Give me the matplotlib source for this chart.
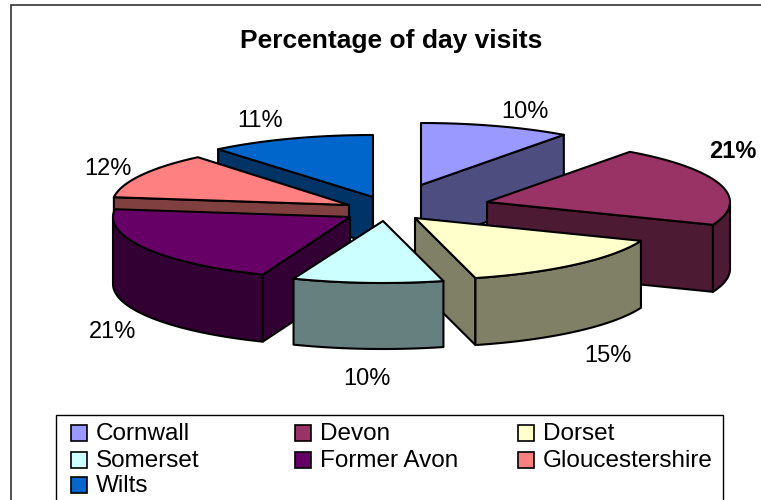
import numpy as np
import matplotlib
matplotlib.use("Agg")
import matplotlib.pyplot as plt
from matplotlib.patches import Polygon, Rectangle

names = ["Cornwall", "Devon", "Dorset", "Somerset", "Former Avon", "Gloucestershire", "Wilts"]
values = [10, 21, 15, 10, 21, 12, 11]
top_colors = ["#9999FF", "#993366", "#FFFFCC", "#CCFFFF", "#660066", "#FF8080", "#0066CC"]
side_colors = ["#4D4D80", "#4D1A33", "#808066", "#668080", "#330033", "#804040", "#003366"]

# where each exploded slice has its point, in pixels of the 761x500 picture
apex_x = [421, 487, 415, 383, 350, 349, 373]
apex_y = [185, 202, 218, 221, 217, 205, 197]
radius_x = [243, 243, 243, 243, 237, 237, 243]
depth = [60, 67, 67, 66, 67, 67, 47]
label_x = [525, 733, 608, 367, 113, 108, 260]
label_y = [111, 151, 355, 378, 331, 168, 120]
draw_order = [6, 5, 0, 1, 4, 2, 3]

RY = 62
LW = 1.5

plt.rcParams["font.family"] = ["Liberation Sans", "DejaVu Sans"]


def rim(cx, cy, rx, a0, a1):
    # points on the ellipse, angle clockwise from 12 o'clock
    t = np.radians(np.linspace(a0, a1, 80))
    return np.column_stack([cx + rx * np.sin(t), cy - RY * np.cos(t)])


def side_face(ax, pts, d, color):
    low = pts[::-1] + [0, d]
    ax.add_patch(Polygon(np.vstack([pts, low]), closed=True, fc=color, ec="black", lw=LW, joinstyle="round"))


def draw_slice(ax, i, a0, a1):
    cx, cy, rx, d = apex_x[i], apex_y[i], radius_x[i], depth[i]
    apex = np.array([[cx, cy]])
    # radial faces, only the ones turned to the viewer
    if np.sin(np.radians(a0)) < -1e-6:
        side_face(ax, np.vstack([apex, rim(cx, cy, rx, a0, a0)[:1]]), d, side_colors[i])
    if np.sin(np.radians(a1)) > 1e-6:
        side_face(ax, np.vstack([apex, rim(cx, cy, rx, a1, a1)[:1]]), d, side_colors[i])
    # outer wall, front half of the ellipse
    f0, f1 = max(a0, 90), min(a1, 270)
    if f1 > f0:
        side_face(ax, rim(cx, cy, rx, f0, f1), d, side_colors[i])
    top = np.vstack([apex, rim(cx, cy, rx, a0, a1)])
    ax.add_patch(Polygon(top, closed=True, fc=top_colors[i], ec="black", lw=LW, joinstyle="round"))


fig = plt.figure(figsize=(7.61, 5), dpi=100)
ax = fig.add_axes([0, 0, 1, 1])
ax.set_xlim(0, 761)
ax.set_ylim(500, 0)
ax.axis("off")

# chart frame runs off the picture on the right and at the bottom
ax.add_patch(Rectangle((11, 5), 800, 540, fc="white", ec="#333333", lw=1.2))

ax.text(391, 41, "Percentage of day visits", fontsize=19, fontweight="bold", ha="center", va="center")

edges = np.cumsum([0] + values) / sum(values) * 360
for i in draw_order:
    draw_slice(ax, i, edges[i], edges[i + 1])

for i, v in enumerate(values):
    weight = "bold" if i == 1 else "normal"
    ax.text(label_x[i], label_y[i] + 1, f"{v}%", fontsize=17, fontweight=weight, ha="center", va="center")

# legend box, cut by the bottom of the picture
ax.add_patch(Rectangle((56, 415), 667, 120, fc="white", ec="black", lw=1.0))
col_x = [71, 295, 518]
row_y = [433, 460, 485]
for i, name in enumerate(names):
    x = col_x[i % 3]
    y = row_y[i // 3]
    ax.add_patch(Rectangle((x, y - 8), 16, 16, fc=top_colors[i], ec="black", lw=1.2))
    ax.text(x + 25, y + 1, name, fontsize=17.5, ha="left", va="center")

fig.savefig("out.png", dpi=100)
